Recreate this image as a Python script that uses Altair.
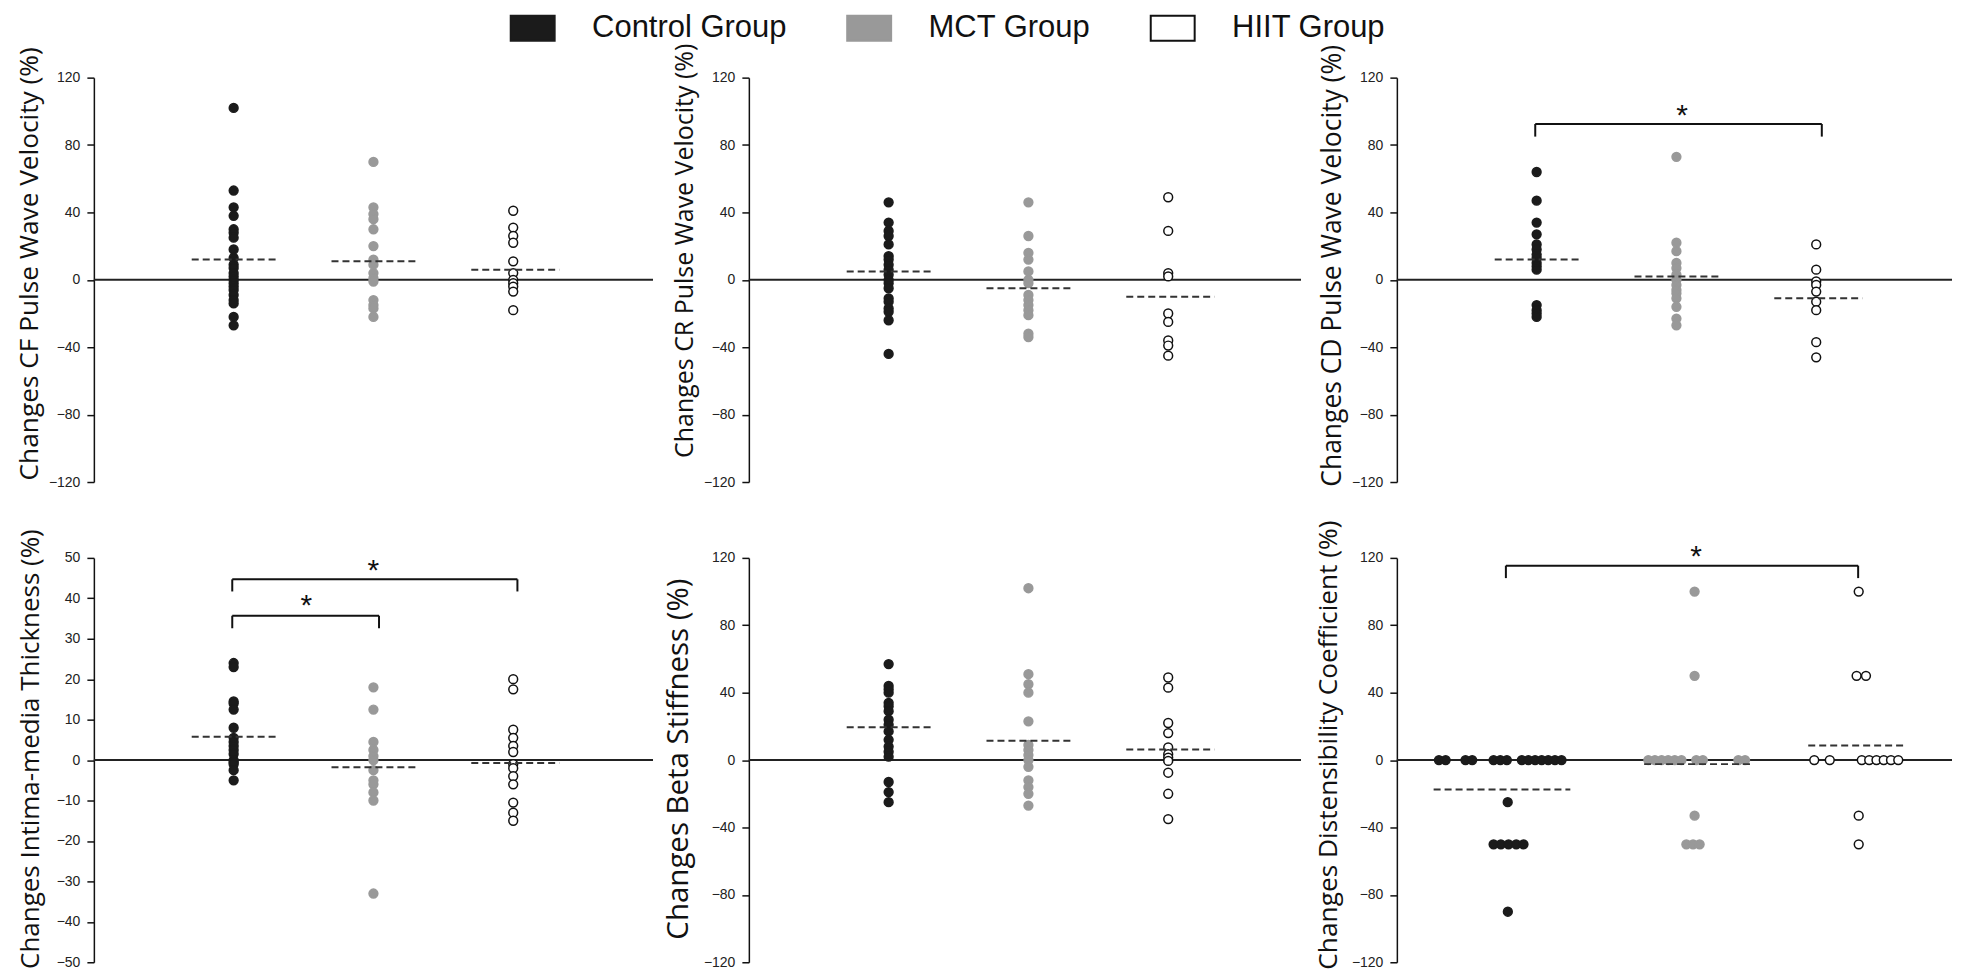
import altair as alt
import pandas as pd

GROUPS = ["Control Group", "MCT Group", "HIIT Group"]
FILL = ["#1b1b1b", "#999999", "#ffffff"]
STROKE = ["#1b1b1b", "#999999", "#111111"]

# ---------- Panel 1: CF pulse wave velocity ----------
cf_control = [102, 53, 43, 38, 30, 28, 25, 18, 13, 9, 7, 4, 2, 0, -2, -4, -6, -9, -12, -14, -22, -27]
cf_mct = [70, 43, 39, 36, 30, 20, 12, 9, 4, 1, -1, -12, -15, -17, -22]
cf_hiit = [41, 31, 26, 22, 11, 4, 0, -2, -4, -7, -18]
cf_means = [12, 11, 6]

# ---------- Panel 2: CR pulse wave velocity ----------
cr_control = [46, 34, 29, 26, 21, 14, 12, 9, 6, 3, 0, -2, -5, -11, -13, -17, -19, -24, -44]
cr_mct = [46, 26, 16, 12, 5, 0, -2, -9, -12, -15, -18, -21, -32, -34]
cr_hiit = [49, 29, 4, 2, -20, -25, -36, -39, -45]
cr_means = [5, -5, -10]

# ---------- Panel 3: CD pulse wave velocity ----------
cd_control = [64, 47, 34, 27, 21, 18, 15, 13, 10, 8, 6, -15, -18, -20, -22]
cd_mct = [73, 22, 17, 10, 7, 3, 0, -3, -6, -8, -11, -16, -23, -27]
cd_hiit = [21, 6, -1, -3, -7, -13, -18, -37, -46]
cd_means = [12, 2, -11]

# ---------- Panel 4: intima-media thickness ----------
imt_control = [24, 23, 14.5, 14, 12.5, 8, 5.5, 4.5, 3.5, 2.5, 1.5, 0, -0.5, -1, -2.5, -5]
imt_mct = [18, 12.5, 4.5, 2.5, 1, 0, -2.5, -5, -6, -8, -10, -33]
imt_hiit = [20, 17.5, 7.5, 5.5, 3.5, 2, -1, -2, -4, -6, -10.5, -13, -15]
imt_means = [5.8, -1.8, -0.7]

# ---------- Panel 5: beta stiffness index ----------
beta_control = [57, 44, 42, 40, 34, 32, 29, 24, 21, 17, 12, 8, 5, 2, -13, -19, -25]
beta_mct = [102, 51, 45, 40, 23, 9, 6, 3, 0, -4, -12, -16, -20, -27]
beta_hiit = [49, 43, 22, 16, 7.5, 3.5, 1.5, -0.5, -7.5, -20, -35]
beta_means = [19.5, 11.5, 6.3]

# ---------- Panel 6: distensibility coefficient (dot plot, spread positions) ----------
dc_control = [0] * 14 + [-25] + [-50] * 5 + [-90]
dc_control_x = [0.301, 0.349, 0.491, 0.539, 0.692, 0.740, 0.787, 0.894, 0.941, 0.989,
                1.036, 1.083, 1.131, 1.178, 0.793, 0.692, 0.744, 0.799, 0.854, 0.906, 0.794]
dc_mct = [100, 50] + [0] * 10 + [-33] + [-50] * 3
dc_mct_x = [2.13, 2.13, 1.799, 1.846, 1.894, 1.941, 1.988, 2.036, 2.142, 2.189, 2.443, 2.491,
            2.13, 2.071, 2.119, 2.166]
dc_hiit = [100, 50, 50] + [0] * 8 + [-33, -50]
dc_hiit_x = [3.304, 3.289, 3.356, 2.986, 3.097, 3.326, 3.379, 3.431, 3.483, 3.535, 3.587,
             3.304, 3.304]
dc_means = [-17.4, -2.4, 8.7]
dc_mean_x1 = [0.263, 1.769, 2.943]
dc_mean_x2 = [1.241, 2.536, 3.65]

# common group centres and mean-line extents (panels 1-5)
centres = [1.0, 2.0, 3.0]
mean_x1 = [0.70, 1.70, 2.70]
mean_x2 = [1.31, 2.31, 3.33]

# significance brackets: x1, x2, top, bottom, star x, star y
cd_brackets = [(0.99, 3.04, 92.5, 85, 2.04, 100)]
imt_brackets = [(0.99, 3.03, 44.7, 41.7, 2.0, 48), (0.99, 2.04, 35.7, 32.6, 1.52, 39.3)]
dc_brackets = [(0.78, 3.30, 115.4, 108, 2.14, 123.5)]

PX_PER_UNIT = 140.0

legend = alt.Legend(
    title=None, orient="none", legendX=424, legendY=-65, direction="horizontal",
    symbolType="M-1.76,-1H1.76V1H-1.76Z", symbolSize=625, symbolStrokeWidth=2,
    labelFont="Liberation Sans", labelFontSize=31, labelColor="#111111", labelOffset=44,
    columnPadding=56, labelLimit=400, padding=0, symbolOpacity=1,
)
fill_scale = alt.Scale(domain=GROUPS, range=FILL)
stroke_scale = alt.Scale(domain=GROUPS, range=STROKE)


def make_panel(vals, xs, means, mx1, mx2, brackets, ydom, yticks,
               title, tsize, tx, ty, width, height=405):
    xmax = width / PX_PER_UNIT
    xsc = alt.Scale(domain=[0, xmax], nice=False, zero=False)
    ysc = alt.Scale(domain=ydom, nice=False, zero=False)
    yaxis = alt.Axis(
        values=yticks, title=title, grid=False,
        titleFont="Open Sans", titleFontSize=tsize, titleFontWeight="normal",
        titleColor="#111111", titleX=tx, titleY=ty, titleAngle=270,
        titleAlign="center", titleBaseline="bottom",
        labelFont="Liberation Sans", labelFontSize=14, labelColor="#222222",
        tickSize=7, labelPadding=7, tickColor="#111111", tickWidth=1.5,
        domainColor="#111111", domainWidth=1.5,
    )

    def X(f):
        return alt.X(f, type="quantitative", scale=xsc, axis=None)

    def Y(f):
        return alt.Y(f, type="quantitative", scale=ysc, axis=yaxis)

    rows = []
    for g, gv, gx in zip(GROUPS, vals, xs):
        for v, x in zip(gv, gx):
            rows.append({"group": g, "x": x, "v": v})
    pts = pd.DataFrame(rows)

    zero = pd.DataFrame({"x": [0.0], "x2": [xmax], "v": [0.0]})
    mdf = pd.DataFrame({"x": mx1, "x2": mx2, "v": means})

    layers = [
        alt.Chart(zero).mark_rule(color="#222222", strokeWidth=2).encode(
            x=X("x"), x2=alt.X2("x2"), y=Y("v")),
        alt.Chart(pts).mark_circle(size=78, opacity=1, strokeWidth=1.5).encode(
            x=X("x"), y=Y("v"),
            fill=alt.Fill("group:N", scale=fill_scale, legend=legend),
            stroke=alt.Stroke("group:N", scale=stroke_scale, legend=legend)),
        alt.Chart(mdf).mark_rule(color="#333333", strokeWidth=2, strokeDash=[7, 4]).encode(
            x=X("x"), x2=alt.X2("x2"), y=Y("v")),
    ]
    if brackets:
        seg = []
        stars = []
        for x1, x2, top, bot, sx, sy in brackets:
            seg.append({"x": x1, "x2": x2, "v": top, "v2": top})
            seg.append({"x": x1, "x2": x1, "v": top, "v2": bot})
            seg.append({"x": x2, "x2": x2, "v": top, "v2": bot})
            stars.append({"x": sx, "v": sy})
        layers.append(alt.Chart(pd.DataFrame(seg)).mark_rule(color="#111111", strokeWidth=2).encode(
            x=X("x"), x2=alt.X2("x2"), y=Y("v"), y2=alt.Y2("v2")))
        layers.append(alt.Chart(pd.DataFrame(stars)).mark_text(
            text="*", font="Liberation Sans", fontSize=30, baseline="alphabetic", dy=14,
            color="#111111").encode(x=X("x"), y=Y("v")))
    return alt.layer(*layers).properties(
        width=width, height=height,
        view=alt.ViewBackground(stroke="transparent", strokeWidth=0, strokeOpacity=0),
    )


t120 = [-120, -80, -40, 0, 40, 80, 120]
t50 = [-50, -40, -30, -20, -10, 0, 10, 20, 30, 40, 50]
W1, W2, W3 = 560, 553, 556
c3 = [[c] * 100 for c in centres]

p1 = make_panel([cf_control, cf_mct, cf_hiit], c3, cf_means, mean_x1, mean_x2, None,
                [-120, 120], t120, "Changes CF Pulse Wave Velocity (%)", 26.3, -50, 186, W1)
p2 = make_panel([cr_control, cr_mct, cr_hiit], c3, cr_means, mean_x1, mean_x2, None,
                [-120, 120], t120, "Changes CR Pulse Wave Velocity (%)", 25, -51, 173, W2)
p3 = make_panel([cd_control, cd_mct, cd_hiit], c3, cd_means, mean_x1, mean_x2, cd_brackets,
                [-120, 120], t120, "Changes CD Pulse Wave Velocity (%)", 26.5, -50, 188, W3)
p4 = make_panel([imt_control, imt_mct, imt_hiit], c3, imt_means, mean_x1, mean_x2, imt_brackets,
                [-50, 50], t50, "Changes Intima-media Thickness (%)", 26, -50, 191, W1)
p5 = make_panel([beta_control, beta_mct, beta_hiit], c3, beta_means, mean_x1, mean_x2, None,
                [-120, 120], t120, "Changes Beta Stiffness  (%)", 29.5, -55, 201, W2)
p6 = make_panel([dc_control, dc_mct, dc_hiit], [dc_control_x, dc_mct_x, dc_hiit_x], dc_means,
                dc_mean_x1, dc_mean_x2, dc_brackets,
                [-120, 120], t120, "Changes Distensibility Coefficient (%)", 26.3, -54, 187, W3)

chart = alt.concat(
    p1, p2, p3, p4, p5, p6, columns=3,
    spacing={"row": 76, "column": 96}, bounds="flush",
).resolve_scale(
    x="independent", y="independent", fill="shared", stroke="shared"
).resolve_legend(fill="shared", stroke="shared").properties(
    padding={"left": 8, "top": 4, "right": 0, "bottom": 0}
).configure_view(
    stroke="transparent", strokeWidth=0, strokeOpacity=0
).configure(background="white")

chart.save("out.html", embed_options={"renderer": "svg", "actions": False})
